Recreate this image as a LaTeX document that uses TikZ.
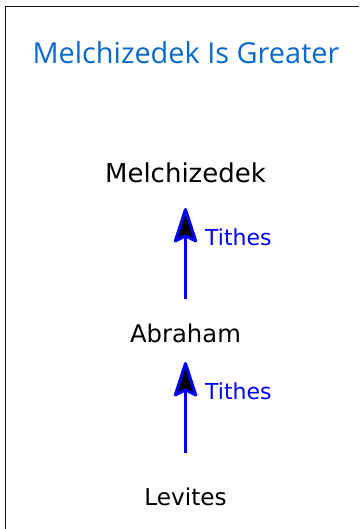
\documentclass[tikz,border=0pt]{standalone}
\usepackage{fontspec}
\setmainfont{DejaVu Sans}
\newfontfamily\titlefont{Open Sans}
\usetikzlibrary{arrows.meta}
\definecolor{titleblue}{RGB}{10,105,205}
\tikzset{
  x=1pt,y=-1pt,
  label text/.style={font=\fontsize{#1}{28}\selectfont,text=black,inner sep=0pt,anchor=center},
  title text/.style={font=\titlefont\fontsize{28.9}{32}\selectfont,text=titleblue,inner sep=0pt,anchor=center},
  tithe text/.style={font=\fontsize{22}{24}\selectfont,text=blue,inner sep=0pt,anchor=west},
  tithe arrow/.style={draw=blue,line width=2.6pt,-{Stealth[length=39pt,width=25pt,inset=6pt,line width=3pt,fill=black,color=blue,round]}},
  frame/.style={draw=black!90,line width=1.5pt}
}
\begin{document}
\begin{tikzpicture}
\useasboundingbox (0,0) rectangle (359,529);
\draw[frame] (5.5,529) -- (5.5,6.5) -- (359,6.5);
\node[title text] (title) at (186,53) {Melchizedek Is Greater};
\node[label text=26] (melch) at (185.5,173) {Melchizedek};
\node[label text=24.3] (abraham) at (185.5,333) {Abraham};
\node[label text=23.2] (levites) at (185.5,497) {Levites};
\coordinate (a1) at (185.5,299);
\coordinate (a2) at (185.5,208);
\coordinate (b1) at (185.5,453);
\coordinate (b2) at (185.5,362);
\draw[tithe arrow] (a1) -- (a2);
\draw[tithe arrow] (b1) -- (b2);
\node[tithe text] (t1) at (205,237) {Tithes};
\node[tithe text] (t2) at (205,391) {Tithes};
\end{tikzpicture}
\end{document}
